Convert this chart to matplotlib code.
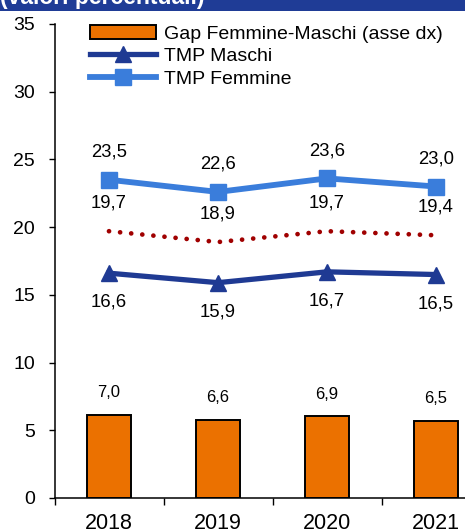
import matplotlib
matplotlib.use("Agg")
import matplotlib.pyplot as plt
from matplotlib.patches import Rectangle

plt.rcParams['font.family'] = ['Liberation Sans', 'DejaVu Sans']

anni = ["2018", "2019", "2020", "2021"]
tmp_femmine = [23.5, 22.6, 23.6, 23.0]
tmp_totale = [19.7, 18.9, 19.7, 19.4]
tmp_maschi = [16.6, 15.9, 16.7, 16.5]
gap_fm = [7.0, 6.6, 6.9, 6.5]
yticks_sx = [0, 5, 10, 15, 20, 25, 30, 35]

C_FEM = "#3A7DDB"
C_MAS = "#1F3A93"
C_TOT = "#A00000"
C_GAP = "#EB7100"
C_HEAD = "#1F3C96"

W, H, DPI = 465, 530, 100
fig = plt.figure(figsize=(W / DPI, H / DPI), dpi=DPI)

# header band with the subtitle running off the top edge
fig.patches.append(Rectangle((0, 1 - 11 / H), 1, 11 / H, transform=fig.transFigure,
                             facecolor=C_HEAD, edgecolor="none", zorder=0))
fig.text(0 / W, 1 - 4 / H, "(valori percentuali)", color="white", fontsize=16.5,
         fontweight="bold", va="baseline", ha="left")

ax = fig.add_axes([54.5 / W, 32 / H, 436 / W, 474 / H])
ax2 = ax.twinx()
ax.set_zorder(ax2.get_zorder() + 1)
ax.patch.set_visible(False)

x = list(range(len(anni)))


def fmt(v):
    return f"{v:.1f}".replace(".", ",")


# gap bars on the secondary (right) axis
ax2.bar(x, gap_fm, width=0.4, color=C_GAP, edgecolor="black", linewidth=1.4)
ax2.set_ylim(0, 40)
ax2.set_axis_off()
for xi, v in zip(x, gap_fm):
    ax2.annotate(fmt(v), (xi, v), xytext=(0, 16),
                 textcoords="offset points", ha="center", va="center", fontsize=12)

l_fem, = ax.plot(x, tmp_femmine, color=C_FEM, lw=4.2, marker="s", ms=11,
                 solid_joinstyle="miter")
l_mas, = ax.plot(x, tmp_maschi, color=C_MAS, lw=3.8, marker="^", ms=11)
ax.plot(x, tmp_totale, color=C_TOT, lw=3.4, linestyle=(0, (0.01, 2.35)),
        dash_capstyle="round")

for xi, v in zip(x, tmp_femmine):
    ax.annotate(fmt(v), (xi, v), xytext=(0, 20),
                textcoords="offset points", ha="center", va="center", fontsize=13.3)
for xi, v in zip(x, tmp_totale):
    ax.annotate(fmt(v), (xi, v), xytext=(0, 20),
                textcoords="offset points", ha="center", va="center", fontsize=13.3)
for xi, v in zip(x, tmp_maschi):
    ax.annotate(fmt(v), (xi, v), xytext=(0, -21),
                textcoords="offset points", ha="center", va="center", fontsize=13.3)

ax.set_xlim(-0.5, len(anni) - 0.5)
ax2.set_xlim(-0.5, len(anni) - 0.5)
ax.set_ylim(0, 35)
ax.set_yticks(yticks_sx)
ax.set_yticklabels([str(t) for t in yticks_sx], fontsize=14)
ax.tick_params(axis="y", direction="out", length=4, width=1, pad=10)

ax.set_xticks(x)
ax.set_xticklabels(anni, fontsize=15.5)
ax.set_xticks([i - 0.5 for i in range(len(anni) + 1)], minor=True)
ax.tick_params(axis="x", which="major", length=0, pad=11)
ax.tick_params(axis="x", which="minor", direction="out", length=5, width=1)

for s in ("top", "right"):
    ax.spines[s].set_visible(False)
for s in ("left", "bottom"):
    ax.spines[s].set_linewidth(1.1)

gap_handle = Rectangle((0, 0), 1, 1, facecolor=C_GAP, edgecolor="black", linewidth=1.4)
fig.legend([gap_handle, l_mas, l_fem],
           ["Gap Femmine-Maschi (asse dx)", "TMP Maschi", "TMP Femmine"],
           loc="upper left", bbox_to_anchor=(90 / W, 1 - 25 / H), frameon=False,
           fontsize=14, handlelength=3.4, handleheight=0.7, labelspacing=0.25,
           handletextpad=0.4, borderaxespad=0, borderpad=0)

fig.savefig("out.png", dpi=DPI)
